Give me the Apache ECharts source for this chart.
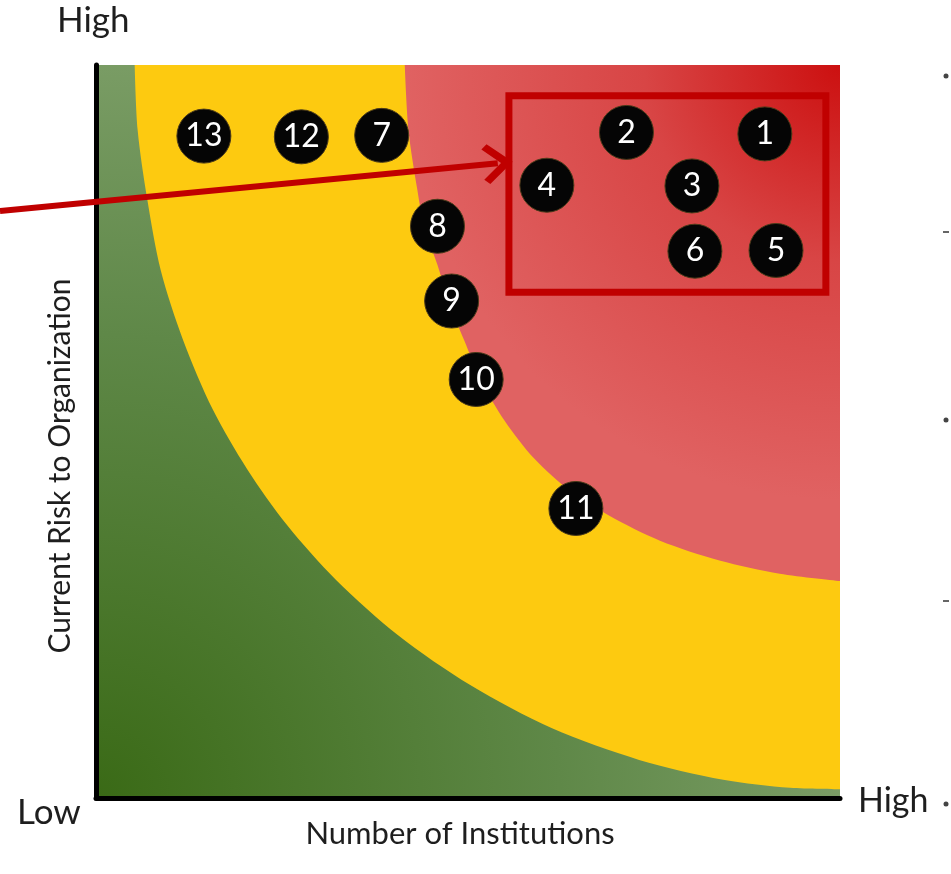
<!DOCTYPE html>
<html>
<head>
<meta charset="utf-8">
<script src="https://cdn.jsdelivr.net/npm/echarts@6/dist/echarts.min.js"></script>
<style>
  html, body { margin: 0; padding: 0; background: #fff; }
  #chart { width: 951px; height: 874px; }
</style>
</head>
<body>
<div id="chart"></div>
<script>
// institution markers
const pointIds = ['1', '2', '3', '4', '5', '6', '7', '8', '9', '10', '11', '12', '13']
const institutions = [89.9, 71.3, 80.1, 60.6, 91.4, 80.5, 38.4, 45.9, 47.8, 51.1, 64.5, 27.6, 14.5]
const risk = [90.6, 90.8, 83.5, 83.6, 74.7, 74.6, 90.4, 78.0, 67.8, 57.1, 39.5, 90.2, 90.3]

// zone edges (yellow over green, red over yellow)
const yellowEdgeX = [5.2, 5.6, 6.9, 8.7, 11.7, 15.7, 20.3, 25.7, 32.3, 40.6, 50.3, 61.3, 73.0, 84.3, 93.3, 100]
const yellowEdgeY = [100, 91.1, 81.6, 72.0, 62.5, 53.0, 44.9, 37.2, 29.7, 22.2, 15.4, 9.5, 5.2, 2.5, 1.4, 1.2]
const redEdgeX = [41.5, 42.0, 43.2, 44.1, 45.9, 47.5, 49.5, 51.7, 54.9, 58.9, 63.7, 69.0, 75.8, 83.8, 91.9, 100]
const redEdgeY = [100, 91.1, 82.9, 78.0, 72.7, 67.5, 62.4, 57.1, 51.5, 46.3, 41.9, 38.5, 35.1, 32.4, 30.6, 29.6]

// highlighted group box and the arrow pointing to it
const focusBox = [[55.5, 95.8], [98.1, 69.0]]
const arrowEnd = [54.0, 86.6]

const chart = echarts.init(document.getElementById('chart'))

const zip = (xs, ys) => xs.map((x, i) => [x, ys[i]])
const textFont = 'Lato, "Open Sans", sans-serif'
const textColor = '#1e1e1e'

const option = {
  animation: false,
  backgroundColor: '#fff',
  grid: {
    left: 96,
    right: 111,
    top: 65,
    bottom: 76,
    show: true,
    borderWidth: 0,
    backgroundColor: new echarts.graphic.RadialGradient(0, 1, 1.15, [
      { offset: 0, color: '#3a6a16' },
      { offset: 0.55, color: '#5f8848' },
      { offset: 1, color: '#84a470' }
    ])
  },
  xAxis: {
    type: 'value',
    min: 0,
    max: 100,
    axisLine: { lineStyle: { color: '#000', width: 5 } },
    axisTick: { show: false },
    axisLabel: { show: false },
    splitLine: { show: false }
  },
  yAxis: {
    type: 'value',
    min: 0,
    max: 100,
    axisLine: { lineStyle: { color: '#000', width: 5 } },
    axisTick: { show: false },
    axisLabel: { show: false },
    splitLine: { show: false }
  },
  graphic: [
    { type: 'text', left: 57, top: 3, style: { text: 'High', fontFamily: textFont, fontSize: 35, fill: textColor } },
    { type: 'text', left: 17, top: 795, style: { text: 'Low', fontFamily: textFont, fontSize: 35, fill: textColor } },
    { type: 'text', left: 858, top: 784, style: { text: 'High', fontFamily: textFont, fontSize: 34, fill: textColor } },
    {
      type: 'text', x: 460, y: 834,
      style: { text: 'Number of Institutions', fontFamily: textFont, fontSize: 31, fill: textColor, align: 'center', verticalAlign: 'middle' }
    },
    {
      type: 'text', x: 60, y: 466, rotation: Math.PI / 2,
      style: { text: 'Current Risk to Organization', fontFamily: textFont, fontSize: 30, fill: textColor, align: 'center', verticalAlign: 'middle' }
    },
    // cut-off bullets at the right edge of the slide
    { type: 'circle', shape: { cx: 946, cy: 76, r: 2.5 }, style: { fill: '#444' } },
    { type: 'rect', shape: { x: 943, y: 231, width: 6, height: 2 }, style: { fill: '#666' } },
    { type: 'circle', shape: { cx: 946, cy: 420, r: 2.5 }, style: { fill: '#444' } },
    { type: 'rect', shape: { x: 943, y: 600, width: 6, height: 2 }, style: { fill: '#666' } },
    { type: 'circle', shape: { cx: 946, cy: 804, r: 2.5 }, style: { fill: '#444' } }
  ],
  series: [
    {
      name: 'Medium',
      type: 'line',
      data: zip(yellowEdgeX, yellowEdgeY),
      smooth: 0.3,
      symbol: 'none',
      lineStyle: { width: 0 },
      areaStyle: { origin: 'end', color: '#fdca10', opacity: 1 },
      silent: true,
      z: 1
    },
    {
      name: 'High',
      type: 'line',
      data: zip(redEdgeX, redEdgeY),
      smooth: 0.3,
      symbol: 'none',
      lineStyle: { width: 0 },
      areaStyle: {
        origin: 'end',
        opacity: 1,
        color: new echarts.graphic.RadialGradient(1, 0, 1, [
          { offset: 0, color: '#cc1010' },
          { offset: 0.45, color: '#d84545' },
          { offset: 1, color: '#e06262' }
        ])
      },
      silent: true,
      z: 2
    },
    {
      name: 'Institutions',
      type: 'scatter',
      data: pointIds.map((id, i) => ({ name: id, value: [institutions[i], risk[i]] })),
      symbolSize: 54,
      itemStyle: { color: '#050505', opacity: 1, borderColor: '#4a3a1a', borderWidth: 1 },
      label: {
        show: true,
        position: 'inside',
        formatter: '{b}',
        fontFamily: textFont,
        fontSize: 32,
        color: '#fff'
      },
      z: 5,
      markArea: {
        z: 4,
        silent: true,
        itemStyle: { color: 'rgba(0,0,0,0)', borderColor: '#c00000', borderWidth: 7, opacity: 1 },
        data: [[{ coord: focusBox[0] }, { coord: focusBox[1] }]]
      },
      markLine: {
        z: 4,
        silent: true,
        symbol: ['none', 'path://M50 0 L100 52 L88 64 L50 25 L12 64 L0 52 Z'],
        symbolSize: [40, 30],
        lineStyle: { color: '#c00000', width: 6, type: 'solid', opacity: 1 },
        label: { show: false },
        data: [[{ x: 0, y: 211 }, { coord: arrowEnd }]]
      }
    }
  ]
}

chart.setOption(option)
window.addEventListener('resize', () => chart.resize())
</script>
</body>
</html>
